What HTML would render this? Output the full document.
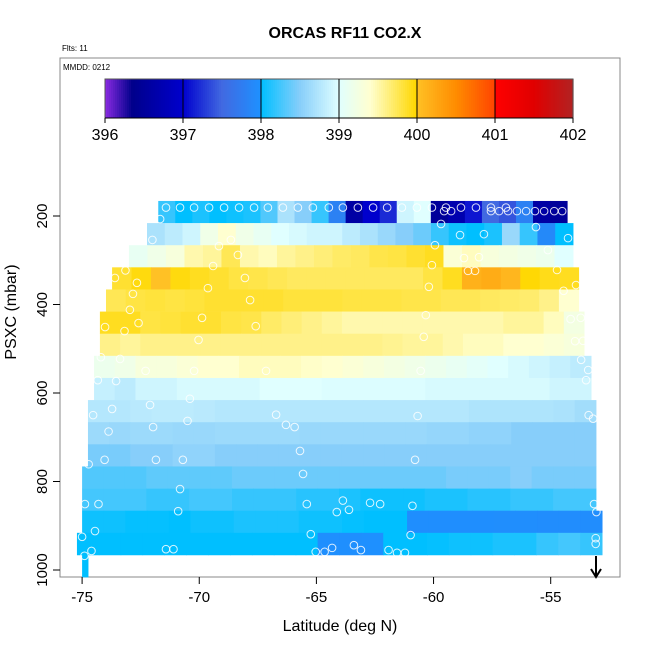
<!DOCTYPE html>
<html><head><meta charset="utf-8">
<style>
html,body{margin:0;padding:0;background:#fff;}
svg{display:block;font-family:"Liberation Sans",Arial,sans-serif;}
</style></head>
<body>
<svg id="chart" width="650" height="650" viewBox="0 0 650 650">
  <text x="345" y="38" text-anchor="middle" font-size="16" font-weight="bold">ORCAS RF11 CO2.X</text>
  <text x="62" y="51" font-size="8">Flts: 11</text>
  <rect x="60" y="58" width="560" height="519" fill="none" stroke="#888" stroke-width="1"/>
  <text x="63" y="70" font-size="8">MMDD: 0212</text>
  <g id="cbar"></g>
  <g id="cells"></g>
  <g id="pts"></g>
  <g id="axes"></g>
  <text x="340" y="631" text-anchor="middle" font-size="16">Latitude (deg N)</text>
  <text transform="translate(16,312) rotate(-90)" text-anchor="middle" font-size="16">PSXC (mbar)</text>
  <line x1="596" y1="556" x2="596" y2="576" stroke="#000" stroke-width="2"/>
  <path d="M591,569 L596,577 L601,569" fill="none" stroke="#000" stroke-width="2"/>
</svg>
<script>
const cbTicks = [396,397,398,399,400,401,402];
const xTicks = [-75,-70,-65,-60,-55];
const yTicks = [200,400,600,800,1000];
const rowPTop = [166,216,266,316,366,416,466,516,566,616,666,716,766,816,866,916,966];
const rowLatStart = [-71.75,-72.23,-73.0,-73.72,-73.98,-74.24,-74.24,-74.49,-74.49,-74.75,-74.75,-74.75,-75,-75,-75,-75.22,-75];
const rowLatEnd = [-54.3,-54.05,-54.05,-53.81,-53.81,-53.58,-53.58,-53.28,-53.28,-53.07,-53.07,-53.07,-53.07,-53.07,-52.81,-52.81,-74.75];
const row0 = [398.2,398.0,398.1,398.0,398.05,398.1,398.3,398.7,398.5,398.2,397.8,396.6,397.0,397.2,398.9,399.0,396.5,396.7,397.1,397.5,397.4,397.8,396.6,396.5];
const row1 = [398.7,398.8,398.9,399.2,399.4,399.2,399.1,399.0,398.95,398.9,398.9,398.8,398.7,398.6,398.5,398.4,398.2,398.05,398.0,398.1,398.6,398.2,397.9,398.0];
const row2 = [399.1,399.2,399.3,399.5,399.55,399.75,399.5,399.45,399.55,399.6,399.65,399.7,399.72,399.78,399.8,399.85,399.9,399.35,399.45,399.3,399.25,399.2,399.15,399.0];
const row3 = [399.85,399.95,400.0,399.95,399.9,399.85,399.8,399.78,399.75,399.72,399.72,399.72,399.72,399.72,399.72,399.72,399.8,399.9,400.15,400.2,400.1,399.98,399.92,399.9];
const row4 = [399.75,399.8,399.82,399.8,399.82,399.85,399.85,399.85,399.85,399.82,399.82,399.82,399.8,399.8,399.8,399.78,399.78,399.75,399.75,399.72,399.7,399.68,399.6,399.4];
const row5 = [399.9,399.9,399.8,399.82,399.85,399.85,399.8,399.78,399.7,399.65,399.6,399.55,399.5,399.5,399.5,399.5,399.5,399.5,399.5,399.5,399.55,399.55,399.45,399.25];
const row6 = [399.6,399.55,399.6,399.6,399.6,399.6,399.6,399.6,399.6,399.6,399.6,399.6,399.6,399.6,399.58,399.55,399.55,399.5,399.45,399.45,399.4,399.4,399.35,399.3];
const row7 = [399.15,399.2,399.3,399.3,399.35,399.4,399.4,399.45,399.45,399.45,399.42,399.4,399.35,399.3,399.25,399.2,399.15,399.1,399.05,399.0,398.95,398.9,398.85,398.8];
const row8 = [398.85,398.8,398.9,398.9,398.95,398.95,398.95,398.95,399.0,399.0,399.0,398.98,398.98,398.98,398.98,398.98,398.95,398.95,398.95,398.95,398.95,398.95,398.9,398.9];
const row9 = [398.75,398.75,398.78,398.8,398.8,398.78,398.75,398.75,398.75,398.75,398.75,398.75,398.75,398.75,398.75,398.75,398.75,398.75,398.72,398.72,398.72,398.72,398.7,398.65];
const row10 = [398.62,398.6,398.62,398.62,398.6,398.6,398.62,398.62,398.62,398.62,398.6,398.6,398.6,398.6,398.6,398.6,398.58,398.58,398.55,398.55,398.5,398.5,398.5,398.5];
const row11 = [398.45,398.45,398.5,398.5,398.55,398.55,398.5,398.5,398.5,398.5,398.5,398.5,398.5,398.5,398.5,398.5,398.5,398.5,398.5,398.5,398.5,398.5,398.5,398.5];
const row12 = [398.3,398.3,398.3,398.35,398.35,398.35,398.35,398.4,398.4,398.4,398.4,398.4,398.4,398.4,398.4,398.4,398.4,398.45,398.45,398.45,398.5,398.45,398.45,398.45];
const row13 = [398.25,398.25,398.25,398.2,398.2,398.25,398.25,398.2,398.2,398.2,398.15,398.15,398.1,398.05,398.05,398.05,398.1,398.1,398.15,398.15,398.2,398.2,398.25,398.25];
const row14 = [398.05,398.05,398.02,398.02,398.0,398.05,398.05,398.1,398.1,398.1,398.05,398.05,398.02,398.0,398.0,397.97,397.97,397.97,397.97,397.96,397.96,397.95,397.95,397.95];
const row15 = [398.0,398.0,398.0,398.0,398.0,398.0,398.0,398.0,398.0,398.0,398.0,397.98,397.98,397.99,398.0,398.0,398.02,398.05,398.05,398.1,398.1,398.2,398.25,398.2];
const row16 = [398.0];
const rowValues = [row0,row1,row2,row3,row4,row5,row6,row7,row8,row9,row10,row11,row12,row13,row14,row15,row16];
const ptLat = [-71.42,-70.82,-70.22,-69.58,-68.94,-68.30,-67.66,-67.07,-66.43,-65.79,-65.15,-64.47,-63.87,-63.23,-62.58,-61.98,-61.35,-60.71,-60.07,-59.47,-58.83,-58.19,-57.55,-56.91,
 -59.55,-59.25,-57.55,-57.2,-56.82,-56.44,-56.05,-55.67,-55.28,-54.85,-54.51,
 -71.67,-72.0,-59.68,-58.87,-57.85,-55.63,-54.26,-69.16,-68.65,-68.35,-69.41,-59.94,-58.7,-58.06,-55.12,-60.07,-58.53,-58.23,-54.73,
 -73.15,-73.6,-72.66,-68.05,-69.63,-53.92,-60.2,-72.83,-67.83,-54.45,-72.96,-74.02,-73.19,-72.59,-69.88,-67.59,-60.33,-54.15,-53.72,
 -70.03,-60.42,-53.96,-53.62,-74.2,-73.38,-72.29,-70.22,-67.15,-60.55,-53.7,-53.4,-74.33,-73.55,-53.49,
 -70.4,-74.53,-73.72,-72.1,-70.5,-66.72,-60.68,-53.38,-53.19,-73.87,-71.97,-66.3,-65.93,-65.7,-74.04,-71.85,-70.7,-60.79,-74.72,-65.57,
 -70.82,-74.88,-74.3,-65.41,-63.87,-62.71,-62.28,-60.9,-53.15,-70.9,-64.13,-63.61,-53.05,-74.45,-75.0,-65.24,-60.98,-53.08,-53.08,
 -74.6,-71.42,-71.1,-65.03,-64.65,-64.33,-63.4,-63.1,-61.92,-61.56,-61.22,-74.9];
const ptP = [181,181,181,181,181,181,181,181,181,181,181,181,181,181,181,181,181,181,181,181,181,181,181,181,
 189,189,189,189,189,189,189,189,189,189,189,
 207,254,218,243,241,225,250,268,254,288,313,266,295,293,277,311,324,324,322,
 323,340,351,340,363,356,360,376,390,369,412,451,460,442,430,449,424,433,430,
 480,473,483,482,519,523,550,550,550,550,525,548,571,573,571,
 613,650,636,627,663,649,652,650,658,687,677,672,677,731,751,751,751,751,761,783,
 817,851,851,851,843,848,851,855,851,867,869,864,869,912,925,919,921,928,941,
 957,953,953,959,959,950,944,955,955,961,961,968];

const cmapV = [396,396.35,397,397.5,397.99,398,398.5,399,399.4,399.99,400,400.5,400.99,401,401.5,402];
const cmapC = ['#8a2be2','#00008b','#0000cd','#4169e1','#1e90ff','#00bfff','#87cefa','#e0ffff','#ffffd0','#ffd700','#ffc125','#ff8c00','#ff4500','#ff0000','#e00000','#b22222'];

const NS='http://www.w3.org/2000/svg';
function xS(lat){return 82.1+(lat+75)*23.43;}
function yS(p){return 216+(p-200)*0.4425;}
function cbX(v){return 105+(v-396)*(573-105)/6;}
function hex(h){return [parseInt(h.substr(1,2),16),parseInt(h.substr(3,2),16),parseInt(h.substr(5,2),16)];}
function color(v){
  if(v<=cmapV[0])return cmapC[0];
  for(let i=1;i<cmapV.length;i++){
    if(v<=cmapV[i]){
      const t=(v-cmapV[i-1])/(cmapV[i]-cmapV[i-1]);
      const a=hex(cmapC[i-1]),b=hex(cmapC[i]);
      return 'rgb('+a.map((c,k)=>Math.round(c+(b[k]-c)*t)).join(',')+')';
    }
  }
  return cmapC[cmapC.length-1];
}
function mk(tag,attrs,parent){const e=document.createElementNS(NS,tag);for(const k in attrs)e.setAttribute(k,attrs[k]);parent.appendChild(e);return e;}

// colorbar
const cb=document.getElementById('cbar');
for(let i=0;i<234;i++){
  const v=396+6*i/234;
  const r=mk('rect',{x:cbX(v),y:79,width:(573-105)/234+0.6,height:39,fill:color(v+6/468)},cb);
  
  
}
const cbo=mk('rect',{x:105,y:79,width:468,height:39,fill:'none',stroke:'#555','stroke-width':1},cb);


cbTicks.forEach(v=>{
  const l=mk('line',{x1:cbX(v),x2:cbX(v),y1:(v>396&&v<402)?79:118,y2:123,stroke:'#000','stroke-width':1},cb);
  
  
  const t=mk('text',{x:cbX(v),y:140,'text-anchor':'middle','font-size':16},cb);
  t.textContent=v;
  
  
});
const cbl=mk('line',{x1:105,x2:573,y1:118,y2:118,stroke:'#000','stroke-width':1},cb);



// heatmap cells
const cg=document.getElementById('cells');
rowValues.forEach((vals,ri)=>{
  const x0=xS(rowLatStart[ri]),x1=xS(rowLatEnd[ri]);
  const y0=yS(rowPTop[ri]),y1=yS(rowPTop[ri]+50);
  const w=(x1-x0)/vals.length;
  vals.forEach((v,ci)=>{
    const r=mk('rect',{x:x0+ci*w,y:y0,width:w+0.5,height:y1-y0+0.3,fill:color(v)},cg);
    
    
  });
});

// points
const pg=document.getElementById('pts');
ptLat.forEach((lat,i)=>{
  const c=mk('circle',{cx:xS(lat),cy:yS(ptP[i]),r:3.8,fill:'none',stroke:'rgba(255,255,255,0.85)','stroke-width':1},pg);
  
  
});

// axes
const ag=document.getElementById('axes');
xTicks.forEach(v=>{
  const l=mk('line',{x1:xS(v),x2:xS(v),y1:577,y2:584,stroke:'#000'},ag);
  
  
  const t=mk('text',{x:xS(v),y:602,'text-anchor':'middle','font-size':15},ag);
  t.textContent=v;
  
  
});
yTicks.forEach(v=>{
  const l=mk('line',{x1:53,x2:60,y1:yS(v),y2:yS(v),stroke:'#000'},ag);
  
  
  const t=mk('text',{transform:'translate(47,'+yS(v)+') rotate(-90)','text-anchor':'middle','font-size':15},ag);
  t.textContent=v;
  
  
});
</script>
</body></html>
